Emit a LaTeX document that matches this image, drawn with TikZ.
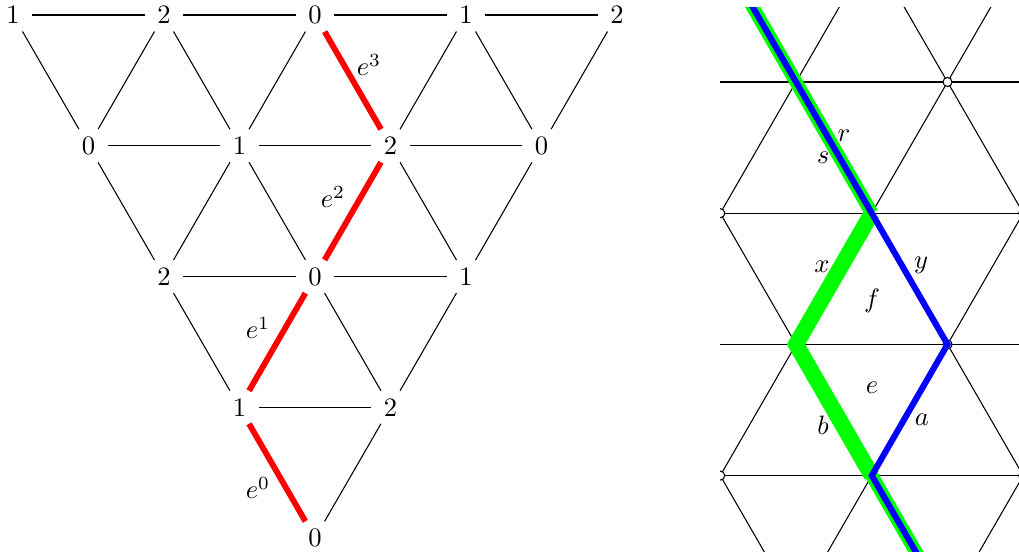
\documentclass[tikz,border=0pt]{standalone}
\begin{document}
\begin{tikzpicture}[x=0.376pt,y=-0.376pt,
  vlab/.style={circle,inner sep=2pt},
  elab/.style={inner sep=0pt},
  edgeline/.style={line width=0.4pt},
  redge/.style={red,line width=2.2pt},
  gridline/.style={line width=0.4pt},
  vcirc/.style={draw,fill=white,line width=0.4pt},
  bluepath/.style={blue,line width=2.3pt},
  greenthin/.style={green,line width=5pt},
  greenthick/.style={green,line width=6pt}]
\useasboundingbox (0,0) rectangle (1019,554);
% ---------- left: labelled triangle ----------
\node[vlab] (a00) at (13,15) {1};
\node[vlab] (a01) at (164,15) {2};
\node[vlab] (a02) at (315,15) {0};
\node[vlab] (a03) at (466,15) {1};
\node[vlab] (a04) at (617,15) {2};
\node[vlab] (a10) at (88.5,145.75) {0};
\node[vlab] (a11) at (239.5,145.75) {1};
\node[vlab] (a12) at (390.5,145.75) {2};
\node[vlab] (a13) at (541.5,145.75) {0};
\node[vlab] (a20) at (164,276.5) {2};
\node[vlab] (a21) at (315,276.5) {0};
\node[vlab] (a22) at (466,276.5) {1};
\node[vlab] (a30) at (239.5,407.25) {1};
\node[vlab] (a31) at (390.5,407.25) {2};
\node[vlab] (a40) at (315,538) {0};
\foreach \u/\v in {a00/a01,a01/a02,a02/a03,a03/a04,a10/a11,a11/a12,a12/a13,
  a20/a21,a21/a22,a30/a31,
  a00/a10,a01/a11,a01/a10,a02/a11,a03/a13,a03/a12,a04/a13,
  a10/a20,a11/a21,a11/a20,a12/a22,a13/a22,
  a20/a30,a21/a31,a22/a31,a31/a40}
  \draw[edgeline] (\u) -- (\v);
\draw[redge] (a40) -- (a30);
\draw[redge] (a30) -- (a21);
\draw[redge] (a21) -- (a12);
\draw[redge] (a12) -- (a02);
\node[elab] (le0) at (258,488) {$e^0$};
\node[elab] (le1) at (258,328) {$e^1$};
\node[elab] (le2) at (333,197) {$e^2$};
\node[elab] (le3) at (369,65) {$e^3$};
% ---------- right: lattice piece ----------
\begin{scope}
\clip (720,7) rectangle (1030,551);
\foreach \k in {-1,...,4}
  \draw[gridline] (600,{82+131.2*\k}) -- (1100,{82+131.2*\k});
\foreach \j in {-4,...,4} {
  \draw[gridline] ({796+151.5*\j-151.5},{82-262.4}) -- ({796+151.5*\j+378.75},{82+656});
  \draw[gridline] ({796+151.5*\j+151.5},{82-262.4}) -- ({796+151.5*\j-378.75},{82+656});
}
\foreach \p in {(947.5,82),(720.25,213.2),(1023.25,213.2),(947.5,344.4),(720.25,475.6),(1023.25,475.6)}
  \path[vcirc] \p circle[radius=1.7pt];
\coordinate (p0) at (720.25,-49.2);
\coordinate (p1) at (796,82);
\coordinate (p2) at (871.75,213.2);
\coordinate (gl) at (796,344.4);
\coordinate (br) at (947.5,344.4);
\coordinate (p3) at (871.75,475.6);
\coordinate (p4) at (947.5,606.8);
\draw[greenthin] (p0) -- (p1) -- (p2);
\draw[greenthin] (p3) -- (p4);
\draw[greenthick] (p2) -- (gl) -- (p3);
\draw[bluepath] (p0) -- (p1) -- (p2) -- (br) -- (p3) -- (p4);
\end{scope}
\node[elab] (lr) at (844,136) {$r$};
\node[elab] (ls) at (823,158) {$s$};
\node[elab] (lx) at (822,267) {$x$};
\node[elab] (ly) at (921,265) {$y$};
\node[elab] (lf) at (872,301) {$f$};
\node[elab] (le) at (872,388) {$e$};
\node[elab] (lb) at (823,425) {$b$};
\node[elab] (la) at (922,420) {$a$};
\end{tikzpicture}
\end{document}
